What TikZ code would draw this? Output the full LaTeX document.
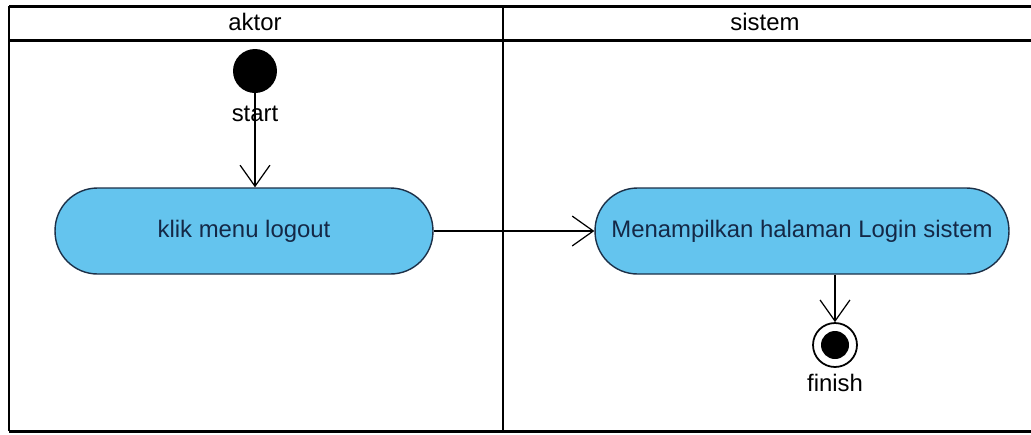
\documentclass[tikz,border=0pt]{standalone}
\usepackage{fontspec}
\setmainfont{Liberation Sans}
\definecolor{actfill}{RGB}{100,196,238}
\definecolor{actline}{RGB}{28,48,72}
\definecolor{acttext}{RGB}{20,40,70}
\usetikzlibrary{arrows.meta}

\begin{document}
\begin{tikzpicture}[x=0.02cm,y=-0.02cm,
    lane/.style={line width=1.7pt},
    action/.style={draw=actline,fill=actfill,line width=0.8pt,rounded corners=0.85cm,
      minimum height=1.72cm,text=acttext,font=\fontsize{13.6}{15}\selectfont},
    flow/.style={-{Straight Barb[length=12pt,width=17pt]},line width=0.7pt},
    lbl/.style={font=\fontsize{13.6}{15}\selectfont,inner sep=0pt}]
  \useasboundingbox (0,0) rectangle (1031,434);
  % swimlanes
  \draw[lane] (9,6) -- (1040,6);
  \draw[lane] (9,40) -- (1040,40);
  \draw[lane] (9,431) -- (1040,431);
  \draw[lane] (9,6) -- (9,431);
  \draw[lane] (503,6) -- (503,431);
  \node[lbl] (aktor) at (255,22) {aktor};
  \node[lbl] (sistem) at (765,22) {sistem};
  % nodes
  \node[circle,fill=black,minimum size=0.88cm,inner sep=0pt] (start) at (255,71) {};
  \node[lbl] (startlbl) at (255,114) {start};
  \node[action,minimum width=7.56cm] (klik) at (244,231) {klik menu logout};
  \node[action,minimum width=8.28cm] (tampil) at (802,231) {Menampilkan halaman Login sistem};
  \node[circle,draw,line width=1pt,fill=white,minimum size=0.88cm,inner sep=0pt] (finish) at (835,345) {};
  \node[circle,fill=black,minimum size=0.56cm,inner sep=0pt] at (finish) {};
  \node[lbl] (finishlbl) at (835,383) {finish};
  % connectors
  \draw[flow] (start) -- (klik.north -| start);
  \draw[flow] (klik) -- (tampil);
  \draw[flow] (tampil.south -| finish) -- (finish);
\end{tikzpicture}
\end{document}
